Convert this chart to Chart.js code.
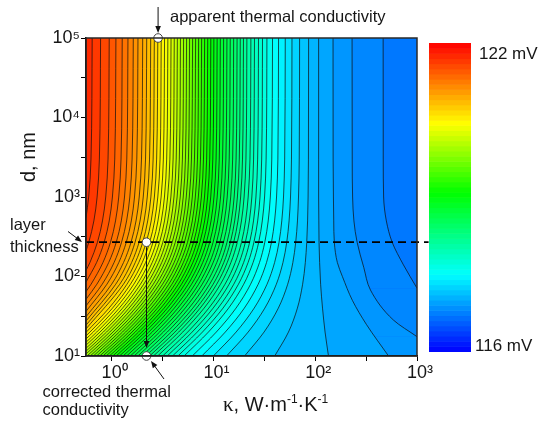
<!DOCTYPE html>
<html>
<head>
<meta charset="utf-8">
<title>Contour d / kappa</title>
<script src="https://cdn.jsdelivr.net/npm/chart.js@4.4.1/dist/chart.umd.min.js"></script>
<style>
  html, body { margin: 0; padding: 0; background: #fff; }
  #cadre { width: 543px; height: 422px; }
</style>
</head>
<body>
<div id="cadre"><canvas id="graphique-contour" width="543" height="422"></canvas></div>
<script>
/* global Chart */

// axes
const kappaMin = 0.56, kappaMax = 1000;
const dMin = 10, dMax = 100000;
const xTickValues = [1, 3.1623, 10, 31.623, 100, 316.23, 1000];
const xTickLabels = ["10\u2070", "", "10\u00B9", "", "10\u00B2", "", "10\u00B3"];
const yTickValues = [10, 31.623, 100, 316.23, 1000, 3162.3, 10000, 31623, 100000];
const yTickLabels = ["10\u00B9", "", "10\u00B2", "", "10\u00B3", "", "10\u2074", "", "10\u2075"];

// colour scale (mV)
const scaleMin = 116, scaleMax = 122;
const paletteStops = [
    [116.0, [0, 0, 255]],
    [117.5, [0, 255, 255]],
    [119.09, [0, 255, 0]],
    [120.44, [255, 255, 0]],
    [122.0, [255, 0, 0]]
];

// contour levels (mV), one for each line, from left to right
const contourLevels = [
    121.70, 121.61, 121.52, 121.43, 121.34, 121.25, 121.16, 121.07, 120.98, 120.89,
    120.80, 120.71, 120.62, 120.53, 120.44, 120.35, 120.26, 120.17, 120.08, 119.99,
    119.90, 119.81, 119.72, 119.63, 119.54, 119.45, 119.36, 119.27, 119.18, 119.09,
    119.00, 118.91, 118.82, 118.73, 118.64, 118.55, 118.46, 118.37, 118.28, 118.19,
    118.10, 118.01, 117.92, 117.83, 117.74, 117.65, 117.56, 117.47, 117.38, 117.29,
    117.20, 117.11, 117.02, 116.93, 116.84, 116.75
];

// contour lines: [kappa, d] from top to bottom
const contourPaths = [
    [[0.644,1e5],[0.627,3000],[0.595,1000],[0.56,550]],
    [[0.779,1e5],[0.758,3000],[0.720,1000],[0.669,500],[0.597,270],[0.56,211]],
    [[0.947,1e5],[0.922,3000],[0.875,1000],[0.813,500],[0.726,270],[0.612,150],[0.56,119]],
    [[1.102,1e5],[1.073,3000],[1.018,1000],[0.947,500],[0.845,270],[0.712,150],[0.56,85]],
    [[1.271,1e5],[1.237,3000],[1.175,1000],[1.092,500],[0.975,270],[0.822,150],[0.628,80],[0.56,64.5]],
    [[1.447,1e5],[1.409,3000],[1.338,1000],[1.244,500],[1.111,270],[0.936,150],[0.716,80],[0.56,51.6]],
    [[1.632,1e5],[1.589,3000],[1.509,1000],[1.403,500],[1.253,270],[1.057,150],[0.808,80],[0.56,42.7]],
    [[1.815,1e5],[1.767,3000],[1.678,1000],[1.561,500],[1.394,270],[1.176,150],[0.899,80],[0.56,36.4]],
    [[2.019,1e5],[1.966,3000],[1.867,1000],[1.737,500],[1.552,270],[1.309,150],[1.001,80],[0.56,31.2]],
    [[2.211,1e5],[2.153,3000],[2.045,1000],[1.902,500],[1.700,270],[1.435,150],[1.098,80],[0.56,27.5]],
    [[2.420,1e5],[2.357,3000],[2.239,1000],[2.083,500],[1.862,270],[1.572,150],[1.203,80],[0.56,24.4]],
    [[2.627,1e5],[2.558,3000],[2.431,1000],[2.261,500],[2.022,270],[1.707,150],[1.307,80],[0.56,21.9]],
    [[2.842,1e5],[2.768,3000],[2.630,1000],[2.447,500],[2.189,270],[1.848,150],[1.415,80],[0.942,40],[0.56,19.8]],
    [[3.071,1e5],[2.991,3000],[2.842,1000],[2.645,500],[2.366,270],[1.999,150],[1.531,80],[1.020,40],[0.612,20],[0.56,17.9]],
    [[3.309,1e5],[3.223,3000],[3.063,1000],[2.851,500],[2.551,270],[2.156,150],[1.652,80],[1.101,40],[0.660,20],[0.56,16.4]],
    [[3.566,1e5],[3.473,3000],[3.302,1000],[3.074,500],[2.751,270],[2.325,150],[1.783,80],[1.188,40],[0.713,20],[0.56,14.9]],
    [[3.834,1e5],[3.735,3000],[3.551,1000],[3.306,500],[2.959,270],[2.503,150],[1.919,80],[1.280,40],[0.768,20],[0.56,13.7]],
    [[4.123,1e5],[4.017,3000],[3.819,1000],[3.557,500],[3.185,270],[2.694,150],[2.067,80],[1.379,40],[0.828,20],[0.56,12.5]],
    [[4.422,1e5],[4.308,3000],[4.097,1000],[3.816,500],[3.418,270],[2.893,150],[2.220,80],[1.482,40],[0.891,20],[0.56,11.5]],
    [[4.745,1e5],[4.623,3000],[4.398,1000],[4.097,500],[3.670,270],[3.107,150],[2.387,80],[1.594,40],[0.958,20],[0.56,10.6]],
    [[5.089,1e5],[4.959,3000],[4.718,1000],[4.396,500],[3.940,270],[3.337,150],[2.564,80],[1.714,40],[1.031,20],[0.573,10]],
    [[5.447,1e5],[5.308,3000],[5.051,1000],[4.708,500],[4.220,270],[3.576,150],[2.750,80],[1.839,40],[1.106,20],[0.616,10]],
    [[5.832,1e5],[5.684,3000],[5.409,1000],[5.043,500],[4.523,270],[3.834,150],[2.950,80],[1.974,40],[1.188,20],[0.661,10]],
    [[6.243,1e5],[6.085,3000],[5.793,1000],[5.402,500],[4.846,270],[4.111,150],[3.165,80],[2.120,40],[1.277,20],[0.711,10]],
    [[6.681,1e5],[6.513,3000],[6.201,1000],[5.784,500],[5.192,270],[4.406,150],[3.394,80],[2.275,40],[1.371,20],[0.764,10]],
    [[7.152,1e5],[6.973,3000],[6.641,1000],[6.197,500],[5.564,270],[4.725,150],[3.643,80],[2.444,40],[1.474,20],[0.821,10]],
    [[7.654,1e5],[7.464,3000],[7.110,1000],[6.636,500],[5.962,270],[5.066,150],[3.909,80],[2.625,40],[1.584,20],[0.883,10]],
    [[8.192,1e5],[7.989,3000],[7.612,1000],[7.108,500],[6.389,270],[5.432,150],[4.196,80],[2.820,40],[1.703,20],[0.950,10]],
    [[8.788,1e5],[8.572,3000],[8.170,1000],[7.632,500],[6.864,270],[5.840,150],[4.515,80],[3.038,40],[1.837,20],[1.025,10]],
    [[9.428,1e5],[9.198,3000],[8.769,1000],[8.195,500],[7.375,270],[6.280,150],[4.860,80],[3.274,40],[1.981,20],[1.107,10]],
    [[10.11,1e5],[9.865,3000],[9.409,1000],[8.797,500],[7.922,270],[6.752,150],[5.231,80],[3.529,40],[2.138,20],[1.195,10]],
    [[10.88,1e5],[10.62,3000],[10.13,1000],[9.477,500],[8.541,270],[7.287,150],[5.653,80],[3.819,40],[2.316,20],[1.295,10]],
    [[11.69,1e5],[11.41,3000],[10.89,1000],[10.20,500],[9.195,270],[7.853,150],[6.101,80],[4.127,40],[2.506,20],[1.403,10]],
    [[12.60,1e5],[12.30,3000],[11.75,1000],[11.00,500],[9.931,270],[8.492,150],[6.607,80],[4.478,40],[2.723,20],[1.526,10]],
    [[13.58,1e5],[13.26,3000],[12.67,1000],[11.88,500],[10.73,270],[9.187,150],[7.160,80],[4.862,40],[2.961,20],[1.661,10]],
    [[14.63,1e5],[14.29,3000],[13.66,1000],[12.81,500],[11.59,270],[9.937,150],[7.759,80],[5.279,40],[3.221,20],[1.809,10]],
    [[15.81,1e5],[15.45,3000],[14.78,1000],[13.87,500],[12.56,270],[10.79,150],[8.439,80],[5.756,40],[3.519,20],[1.979,10]],
    [[17.08,1e5],[16.70,3000],[15.98,1000],[15.01,500],[13.61,270],[11.71,150],[9.181,80],[6.278,40],[3.846,20],[2.166,10]],
    [[18.36,1e5],[17.95,3000],[17.20,1000],[16.17,500],[14.68,270],[12.65,150],[9.939,80],[6.815,40],[4.184,20],[2.360,10]],
    [[19.74,1e5],[19.31,3000],[18.51,1000],[17.42,500],[15.83,270],[13.67,150],[10.77,80],[7.406,40],[4.559,20],[2.576,10]],
    [[21.32,1e5],[20.87,3000],[20.02,1000],[18.86,500],[17.17,270],[14.86,150],[11.74,80],[8.100,40],[5.000,20],[2.831,10]],
    [[23.34,1e5],[22.86,3000],[21.95,1000],[20.71,500],[18.89,270],[16.39,150],[13.00,80],[9.011,40],[5.584,20],[3.169,10]],
    [[25.32,1e5],[24.81,3000],[23.85,1000],[22.53,500],[20.60,270],[17.92,150],[14.27,80],[9.933,40],[6.179,20],[3.517,10]],
    [[27.73,1e5],[27.19,3000],[26.17,1000],[24.76,500],[22.69,270],[19.81,150],[15.85,80],[11.10,40],[6.936,20],[3.961,10]],
    [[30.36,1e5],[29.79,3000],[28.70,1000],[27.21,500],[25.01,270],[21.91,150],[17.62,80],[12.42,40],[7.805,20],[4.477,10]],
    [[33.55,1e5],[32.94,3000],[31.80,1000],[30.21,500],[27.86,270],[24.53,150],[19.85,80],[14.10,40],[8.929,20],[5.148,10]],
    [[38.08,1e5],[37.44,3000],[36.23,1000],[34.53,500],[31.99,270],[28.36,150],[23.18,80],[16.67,40],[10.67,20],[6.200,10]],
    [[43.63,1e5],[42.96,3000],[41.69,1000],[39.89,500],[37.19,270],[33.25,150],[27.53,80],[20.11,40],[13.07,20],[7.679,10]],
    [[50.78,1e5],[50.11,3000],[48.81,1000],[46.94,500],[44.11,270],[39.91,150],[33.62,80],[25.13,40],[16.70,20],[9.981,10]],
    [[59.12,1e5],[58.46,3000],[57.18,1000],[55.36,500],[52.52,270],[48.21,150],[41.51,80],[31.99,40],[21.93,20],[13.45,10]],
    [[70.23,1e5],[69.66,3000],[68.54,1000],[66.92,500],[64.34,270],[60.30,150],[53.66,80],[43.41,40],[31.42,20],[20.23,10]],
    [[86.10,1e5],[85.77,3000],[85.12,1000],[84.16,500],[82.58,270],[79.95,150],[75.25,80],[66.83,40],[54.61,20],[39.98,10]],
    [[108,1e5],[108,3000],[108,1000],[108.5,500],[109,270],[110.5,150],[113,80],[118,40],[125,20],[135,10]],
    [[149.7,1e5],[150,3000],[151,1000],[152,500],[154,270],[165,150],[185,100],[232,50],[318,25],[525,10]],
    [[230.2,1e5],[231,3000],[233,1000],[240,500],[258,270],[300,130],[349,67.6],[587,28.3],[1000,17.5]],
    [[464.9,1e5],[466,3000],[470,1000],[500,500],[570,270],[736,140],[1000,71.3]]
];
// lines that leave through the right edge: [line index, d at the edge]
const rightEdgeExits = [[54, 17.5], [55, 71.3]];

// annotations
const layerThickness = 270;
const apparentKappa = 2.86;
const correctedKappa = 2.2;

const lineColor = "rgba(15,15,15,0.9)";
const textColor = "#161616";

function paletteColor (v) {
    v = Math.max(scaleMin, Math.min(scaleMax, v));
    for (let i = 1; i < paletteStops.length; i++) {
        const [v1, c1] = paletteStops[i];
        const [v0, c0] = paletteStops[i - 1];
        if (v <= v1) {
            const t = (v - v0) / (v1 - v0);
            const c = c0.map((a, k) => Math.round(a + (c1[k] - a) * t));
            return `rgb(${c[0]},${c[1]},${c[2]})`;
        }
    }
    return "rgb(255,0,0)";
}

const step = contourLevels[0] - contourLevels[1];

const datasets = [];
datasets.push({
    label: "points",
    data: [
        {x: apparentKappa, y: dMax},
        {x: correctedKappa, y: layerThickness},
        {x: correctedKappa, y: dMin}
    ],
    showLine: false,
    pointRadius: 4.3,
    pointBackgroundColor: "#fff",
    pointBorderColor: "#444",
    pointBorderWidth: 1,
    fill: false,
    clip: false
});
datasets.push({
    label: "layer thickness",
    data: [{x: kappaMin, y: layerThickness}, {x: 1300, y: layerThickness}],
    borderColor: "#000",
    borderWidth: 1.7,
    borderDash: [8, 5],
    pointRadius: 0,
    tension: 0,
    fill: false,
    clip: false
});

contourPaths.forEach((path, i) => {
    const band = paletteColor(contourLevels[i] + step / 2);
    datasets.push({
        label: contourLevels[i].toFixed(2) + " mV",
        data: path.map(p => ({x: p[0], y: p[1]})),
        borderColor: lineColor,
        borderWidth: 0.8,
        pointRadius: 0,
        cubicInterpolationMode: "monotone",
        backgroundColor: band,
        fill: {value: kappaMin}
    });
    const exit = rightEdgeExits.find(e => e[0] === i);
    if (exit) {
        // the band keeps going below the point where the line meets the right edge
        datasets.push({
            label: contourLevels[i].toFixed(2) + " mV (edge)",
            data: [{x: kappaMax, y: exit[1]}, {x: kappaMax, y: dMin}],
            borderColor: "rgba(0,0,0,0)",
            borderWidth: 0,
            pointRadius: 0,
            tension: 0,
            backgroundColor: band,
            fill: {value: kappaMin}
        });
    }
});

function fleche (ctx, x1, y1, x2, y2) {
    const a = Math.atan2(y2 - y1, x2 - x1);
    const L = 7, W = 2.8;
    ctx.beginPath();
    ctx.moveTo(x1, y1);
    ctx.lineTo(x2 - L * 0.7 * Math.cos(a), y2 - L * 0.7 * Math.sin(a));
    ctx.stroke();
    ctx.beginPath();
    ctx.moveTo(x2, y2);
    ctx.lineTo(x2 - L * Math.cos(a) + W * Math.sin(a), y2 - L * Math.sin(a) - W * Math.cos(a));
    ctx.lineTo(x2 - L * Math.cos(a) - W * Math.sin(a), y2 - L * Math.sin(a) + W * Math.cos(a));
    ctx.closePath();
    ctx.fill();
}

const fondPlugin = {
    id: "fond",
    beforeDraw (chart) {
        const {ctx, chartArea: a} = chart;
        ctx.save();
        ctx.fillStyle = paletteColor(contourLevels[contourLevels.length - 1] - step / 2);
        ctx.fillRect(a.left, a.top, a.right - a.left, a.bottom - a.top);
        ctx.restore();
    }
};

const annotationsPlugin = {
    id: "annotations",
    afterDraw (chart) {
        const {ctx, chartArea: a, scales} = chart;
        const sx = scales.x, sy = scales.y;
        ctx.save();

        // frame
        ctx.strokeStyle = "#2a2a2a";
        ctx.lineWidth = 1.5;
        ctx.strokeRect(a.left, a.top, a.right - a.left, a.bottom - a.top);

        // arrows
        ctx.strokeStyle = "#111";
        ctx.fillStyle = "#111";
        ctx.lineWidth = 1;
        const xa = sx.getPixelForValue(apparentKappa);
        const xc = sx.getPixelForValue(correctedKappa);
        const yl = sy.getPixelForValue(layerThickness);
        fleche(ctx, xa, 7, xa, sy.getPixelForValue(dMax) - 5);
        fleche(ctx, xc, yl + 5, xc, sy.getPixelForValue(dMin) - 8);
        fleche(ctx, 164, 379, 151, 361);
        fleche(ctx, 68, 231.5, 82, 242);

        // texts
        ctx.fillStyle = textColor;
        ctx.textBaseline = "alphabetic";
        ctx.textAlign = "left";
        ctx.font = '16.5px "Liberation Sans", Arial, sans-serif';
        ctx.fillText("apparent thermal conductivity", 170, 22);
        ctx.fillText("layer", 10, 230);
        ctx.fillText("thickness", 10, 252);
        ctx.fillText("corrected thermal", 42.5, 396.5);
        ctx.fillText("conductivity", 42.5, 414.5);

        // y title
        ctx.save();
        ctx.translate(34.5, 157);
        ctx.rotate(-Math.PI / 2);
        ctx.textAlign = "center";
        ctx.font = '20px "Liberation Sans", Arial, sans-serif';
        ctx.fillText("d, nm", 0, 0);
        ctx.restore();

        // x title
        let x = 223;
        const yb = 411;
        const part = (txt, font, dy) => {
            ctx.font = font;
            ctx.fillText(txt, x, yb + dy);
            x += ctx.measureText(txt).width;
        };
        const big = '20px "Liberation Sans", Arial, sans-serif';
        const sup = '12px "Liberation Sans", Arial, sans-serif';
        part("\u03BA", '21px "Liberation Serif", "Times New Roman", serif', 0);
        part(", W\u00B7m", big, 0);
        part("-1", sup, -8);
        part("\u00B7K", big, 0);
        part("-1", sup, -8);

        // colour bar
        const cb = {left: 429, right: 471, top: 43.3, bottom: 351.7};
        const h = cb.bottom - cb.top;
        for (let v = scaleMin; v < scaleMax - 1e-6; v += 0.1) {
            const y0 = cb.bottom - (v - scaleMin) / (scaleMax - scaleMin) * h;
            const y1 = cb.bottom - (v + 0.1 - scaleMin) / (scaleMax - scaleMin) * h;
            ctx.fillStyle = paletteColor(v + 0.05);
            ctx.fillRect(cb.left, y1 - 0.3, cb.right - cb.left, y0 - y1 + 0.6);
        }
        ctx.fillStyle = textColor;
        ctx.font = '17px "Liberation Sans", Arial, sans-serif';
        ctx.fillText(scaleMax + " mV", 479, 58.5);
        ctx.fillText(scaleMin + " mV", 475, 350.5);

        ctx.restore();
    }
};

const tickFont = {family: '"Liberation Sans", Arial, sans-serif', size: 18};

const config = {
    type: "line",
    data: {datasets: datasets},
    options: {
        indexAxis: "y",
        responsive: false,
        animation: false,
        events: [],
        layout: {padding: {left: 0, right: 126, top: 38, bottom: 36}},
        plugins: {
            legend: {display: false},
            tooltip: {enabled: false},
            filler: {propagate: false, drawTime: "beforeDatasetsDraw"}
        },
        scales: {
            x: {
                type: "logarithmic",
                position: "bottom",
                min: kappaMin,
                max: kappaMax,
                afterBuildTicks: (scale) => {
                    scale.ticks = xTickValues.map(v => ({value: v}));
                },
                afterFit: (scale) => { scale.height = 30; },
                ticks: {
                    autoSkip: false,
                    maxRotation: 0,
                    padding: 1,
                    labelOffset: 3,
                    color: textColor,
                    font: tickFont,
                    callback: (v, i) => xTickLabels[i]
                },
                grid: {display: true, drawOnChartArea: false, drawTicks: true, tickLength: 5, color: "#000"},
                border: {display: true, color: "#000", width: 1.5, z: 1}
            },
            y: {
                type: "logarithmic",
                position: "left",
                min: dMin,
                max: dMax,
                afterBuildTicks: (scale) => {
                    scale.ticks = yTickValues.map(v => ({value: v}));
                },
                afterFit: (scale) => { scale.width = 86; },
                ticks: {
                    autoSkip: false,
                    padding: 1,
                    color: textColor,
                    font: tickFont,
                    callback: (v, i) => yTickLabels[i]
                },
                grid: {display: true, drawOnChartArea: false, drawTicks: true, tickLength: 5, color: "#000"},
                border: {display: true, color: "#000", width: 1.5, z: 1}
            }
        }
    },
    plugins: [fondPlugin, annotationsPlugin]
};

new Chart(document.getElementById("graphique-contour"), config);
</script>
</body>
</html>
